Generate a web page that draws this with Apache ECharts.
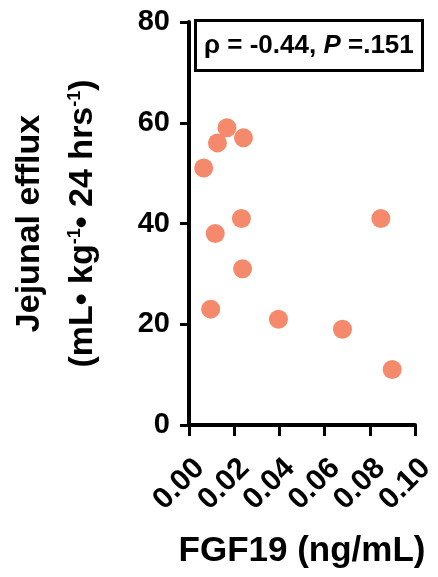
<!DOCTYPE html>
<html>
<head>
<meta charset="utf-8">
<script src="https://cdn.jsdelivr.net/npm/echarts@6/dist/echarts.min.js"></script>
<style>
  html, body { margin: 0; padding: 0; background: #fff; }
  #chart { width: 438px; height: 577px; }
</style>
</head>
<body>
<div id="chart"></div>
<script>
// FGF19 (ng/mL) on x, jejunal efflux on y
const fgf19 = [0.0168, 0.0126, 0.0241, 0.0065, 0.0232, 0.0849, 0.0116, 0.0237, 0.0096, 0.0396, 0.0679, 0.0899];
const efflux = [59, 56, 57, 51, 41, 41, 38, 31, 23, 21, 19, 11];
const xTicks = ['0.00', '0.02', '0.04', '0.06', '0.08', '0.10'];
const yTicks = ['0', '20', '40', '60', '80'];
const annotation = { rho: '-0.44', p: '.151' };

const points = fgf19.map((x, i) => [x, efflux[i]]);
const FONT = '"Liberation Sans", Arial, sans-serif';

const chart = echarts.init(document.getElementById('chart'), null, { renderer: 'canvas' });
chart.setOption({
  animation: false,
  backgroundColor: '#ffffff',
  title: {
    text: '{r|ρ = ' + annotation.rho + ', }{p|P}{r| =' + annotation.p + '}',
    left: 195,
    top: 20,
    borderColor: '#000',
    borderWidth: 3,
    padding: [12, 9, 12, 9],
    textStyle: {
      rich: {
        r: { fontFamily: FONT, fontWeight: 'bold', fontSize: 26, color: '#000', lineHeight: 27 },
        p: { fontFamily: FONT, fontWeight: 'bold', fontStyle: 'italic', fontSize: 26, color: '#000', lineHeight: 27 }
      }
    }
  },
  grid: { left: 189, right: 23, top: 22, bottom: 152, containLabel: false, outerBoundsMode: 'none' },
  xAxis: {
    type: 'value',
    min: 0, max: 0.1, interval: 0.02,
    name: 'FGF19 (ng/mL)',
    nameLocation: 'middle',
    nameGap: 109,
    nameTextStyle: { fontFamily: FONT, fontWeight: 'bold', fontSize: 35, color: '#000' },
    axisLine: { show: true, lineStyle: { color: '#000', width: 4 } },
    axisTick: { show: true, length: 11, lineStyle: { color: '#000', width: 3 } },
    splitLine: { show: false },
    axisLabel: {
      rotate: 45,
      margin: 28,
      align: 'right',
      verticalAlign: 'top',
      fontFamily: FONT, fontWeight: 'bold', fontSize: 30, color: '#000',
      formatter: (v) => xTicks[Math.round(v / 0.02)] ?? v.toFixed(2)
    }
  },
  yAxis: {
    type: 'value',
    min: 0, max: 80, interval: 20,
    name: 'Jejunal efflux\n(mL• kg{sup|-1}• 24 hrs{sup|-1})',
    nameLocation: 'middle',
    nameRotate: 90,
    nameGap: 80,
    nameTextStyle: {
      fontFamily: FONT, fontWeight: 'bold', fontSize: 34, color: '#000', lineHeight: 53,
      rich: {
        sup: { fontFamily: FONT, fontWeight: 'bold', fontSize: 18, color: '#000', verticalAlign: 'top', padding: [10, 0, 0, 0] }
      }
    },
    axisLine: { show: true, lineStyle: { color: '#000', width: 4 } },
    axisTick: { show: true, length: 9, lineStyle: { color: '#000', width: 3 } },
    splitLine: { show: false },
    axisLabel: {
      margin: 19,
      fontFamily: FONT, fontWeight: 'bold', fontSize: 29, color: '#000',
      formatter: (v) => yTicks[Math.round(v / 20)] ?? String(v)
    }
  },
  series: [{
    type: 'scatter',
    data: points,
    symbol: 'circle',
    symbolSize: 19,
    itemStyle: { color: '#F4896B', opacity: 1 }
  }]
});
</script>
</body>
</html>
